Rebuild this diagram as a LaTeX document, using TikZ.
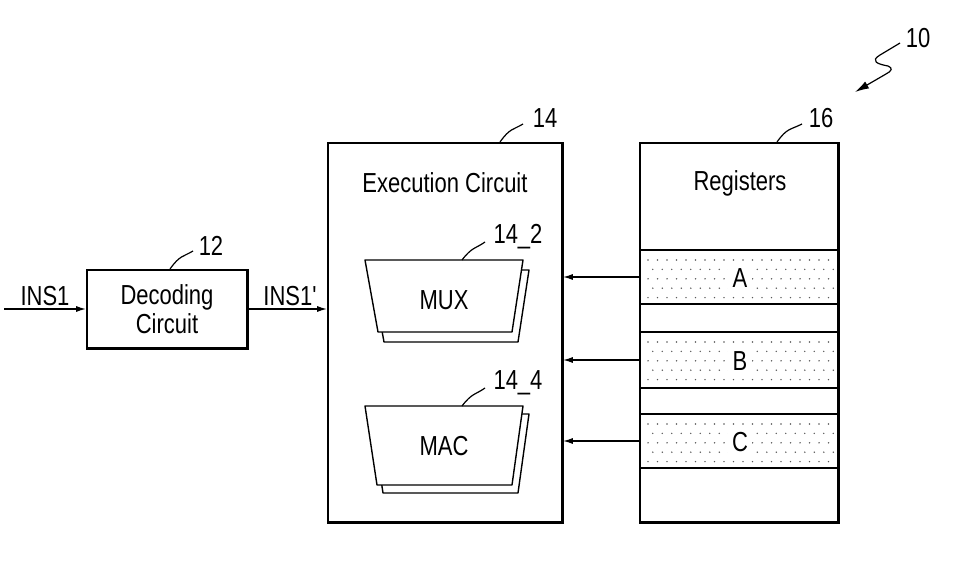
\documentclass[tikz,border=0pt]{standalone}
\usepackage{fontspec}
\newfontfamily\pf[FakeStretch=0.8]{Liberation Sans}
\usetikzlibrary{arrows.meta}
\begin{document}
\begin{tikzpicture}[x=1pt,y=-1pt,
  lbl/.style={font=\pf\fontsize{27.5}{29}\selectfont, inner sep=0},
  box/.style={draw, line width=1.6, fill=white, inner sep=0},
  thk/.style={line width=3},
  arr/.style={line width=1.5, -{Latex[length=10,width=6]}},
  lead/.style={line width=1.2},
  dotc/.style={fill=black!65},
  trap/.style={draw, line width=1.4, fill=white, line join=round}
]
\useasboundingbox (0,0) rectangle (964,583);

% boxes
\node[box, minimum width=160, minimum height=78, lbl, align=center] (dec) at (167,309) {Decoding\\Circuit};
\node[box, minimum width=234, minimum height=379] (exe) at (445,332.5) {};
\node[box, minimum width=198, minimum height=379] (reg) at (739,332.5) {};
\draw[thk] (dec.north east) -- (dec.south east) -- (dec.south west);
\draw[thk] (exe.north east) -- (exe.south east) -- (exe.south west);
\draw[thk] (reg.north east) -- (reg.south east) -- (reg.south west);

\node[lbl] (exet) at (445,183) {Execution Circuit};
\node[lbl] (regt) at (740,183) {Registers};

% register rows
\foreach \n/\t/\b in {A/250/304, B/332/388, C/414/468} {
  \foreach \r in {0,...,4} {
    \foreach \c in {0,...,19} {
      \fill[dotc] ({648+9.5*\c+4.75*mod(\r,2)}, {\t+10+9.4*\r}) circle (0.8);
    }
  }
  \node[draw, line width=1.6, minimum width=198, minimum height={\b-\t}, inner sep=0] (reg\n) at (739,{(\t+\b)/2}) {};
  \node[lbl, fill=white, minimum width=24, minimum height=30] (let\n) at (740,{(\t+\b)/2+1}) {\n};
  \draw[arr] (reg\n.west) -- (reg\n.west -| exe.east);
}

% input / output arrows
\coordinate (in) at (4,309);
\draw[arr] (in) -- (dec.west);
\draw[arr] (dec.east) -- (dec.east -| exe.west);
\node[lbl] (ins) at (45,296) {INS1};
\node[lbl] (insp) at (290,296) {INS1'};

% MUX
\draw[trap] (371,270) -- (529,270) -- (518,342) -- (384,342) -- cycle;
\draw[trap] (365,260) -- (523,260) -- (512,332) -- (378,332) -- cycle;
\node[lbl] (mux) at (444,300) {MUX};
% MAC
\draw[trap] (371,414) -- (529,414) -- (518,493) -- (383,493) -- cycle;
\draw[trap] (365,406) -- (523,406) -- (512,485) -- (377,485) -- cycle;
\node[lbl] (mac) at (444,446) {MAC};

% reference labels
\node[lbl] (l12) at (211,246) {12};
\draw[lead] (170,269) .. controls (180,255) and (183,257) .. (193,251);
\node[lbl] (l14) at (545,118) {14};
\draw[lead] (500,142) .. controls (510,128) and (513,130) .. (523,124);
\node[lbl] (l16) at (821,118) {16};
\draw[lead] (777,142) .. controls (787,128) and (790,130) .. (802,124);
\node[lbl] (l142) at (518,237) {14\_2};
\draw[lead] (462,260) .. controls (472,247) and (475,249) .. (485,242);
\node[lbl] (l144) at (518,383) {14\_4};
\draw[lead] (462,406) .. controls (472,393) and (475,395) .. (485,388);
\node[lbl] (l10) at (918,38) {10};
\draw[lead, -{Latex[length=14,width=8]}] (900,43) -- (880,55) .. controls (870,61) and (877,64) .. (888,66) .. controls (893,68) and (892,71) .. (886,74) -- (855,92);
\end{tikzpicture}
\end{document}
